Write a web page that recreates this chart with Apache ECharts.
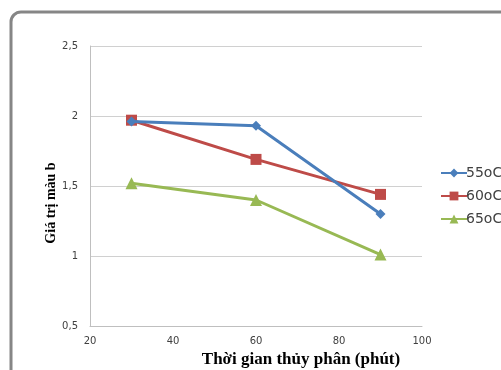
<!DOCTYPE html>
<html>
<head>
<meta charset="utf-8">
<script src="https://cdn.jsdelivr.net/npm/echarts@6/dist/echarts.min.js"></script>
<style>
  html, body { margin: 0; padding: 0; background: #fff; }
  #chart { width: 501px; height: 370px; }
</style>
</head>
<body>
<div id="chart"></div>
<script>
// Hydrolysis time (minutes) and colour value b for three temperatures
var times = [30, 60, 90];
var seriesNames = ['55oC', '60oC', '65oC'];
var values55 = [1.96, 1.93, 1.30];
var values60 = [1.97, 1.69, 1.44];
var values65 = [1.52, 1.40, 1.01];

var colors = ['#4A7EBB', '#BE4B48', '#98B954'];
var symbols = ['diamond', 'rect', 'triangle'];
var symbolSizes = [10, 11, 12];
var allValues = [values55, values60, values65];

function pairs(xs, ys) {
  return xs.map(function (x, i) { return [x, ys[i]]; });
}

var chart = echarts.init(document.getElementById('chart'));

chart.setOption({
  animation: false,
  graphic: [{
    type: 'rect',
    shape: { x: 11, y: 12, width: 620, height: 420, r: 10 },
    style: { fill: 'none', stroke: '#868686', lineWidth: 3 },
    z: -10
  }],
  grid: { left: 90, right: 79, top: 46, bottom: 44, outerBoundsMode: 'none', containLabel: false },
  legend: {
    orient: 'vertical',
    left: 435,
    top: 161,
    itemGap: 9,
    itemWidth: 26,
    itemHeight: 11,
    textStyle: { fontFamily: 'DejaVu Sans', fontSize: 14, color: '#404040', padding: [0, 0, 0, -6] },
    data: seriesNames
  },
  xAxis: {
    type: 'value',
    min: 20, max: 100, interval: 20,
    name: 'Thời gian thủy phân (phút)',
    nameLocation: 'middle',
    nameGap: 25,
    nameMoveOverlap: false,
    nameTextStyle: {
      fontFamily: 'Liberation Serif', fontWeight: 'bold', fontSize: 17, color: '#000',
      padding: [0, 0, 0, 90]
    },
    axisLine: { show: true, lineStyle: { color: '#bfbfbf', width: 1 } },
    axisTick: { show: false },
    splitLine: { show: false },
    axisLabel: { fontFamily: 'DejaVu Sans', fontSize: 10, color: '#404040', margin: 10 }
  },
  yAxis: {
    type: 'value',
    min: 0.5, max: 2.5, interval: 0.5,
    name: 'Giá trị màu b',
    nameLocation: 'middle',
    nameRotate: 90,
    nameGap: 32,
    nameMoveOverlap: false,
    nameTextStyle: {
      fontFamily: 'Liberation Serif', fontWeight: 'bold', fontSize: 14, color: '#000',
      padding: [0, 34, 0, 0]
    },
    axisLine: { show: true, lineStyle: { color: '#bfbfbf', width: 1 } },
    axisTick: { show: false },
    splitLine: { show: true, lineStyle: { color: '#d0d0d0', width: 1 } },
    axisLabel: {
      fontFamily: 'DejaVu Sans', fontSize: 10, color: '#404040', margin: 12,
      formatter: function (v) { return String(v).replace('.', ','); }
    }
  },
  series: seriesNames.map(function (name, i) {
    return {
      name: name,
      type: 'line',
      data: pairs(times, allValues[i]),
      symbol: symbols[i],
      symbolSize: symbolSizes[i],
      showAllSymbol: true,
      lineStyle: { color: colors[i], width: 3 },
      itemStyle: { color: colors[i] },
      z: 3 - i
    };
  })
});
</script>
</body>
</html>
